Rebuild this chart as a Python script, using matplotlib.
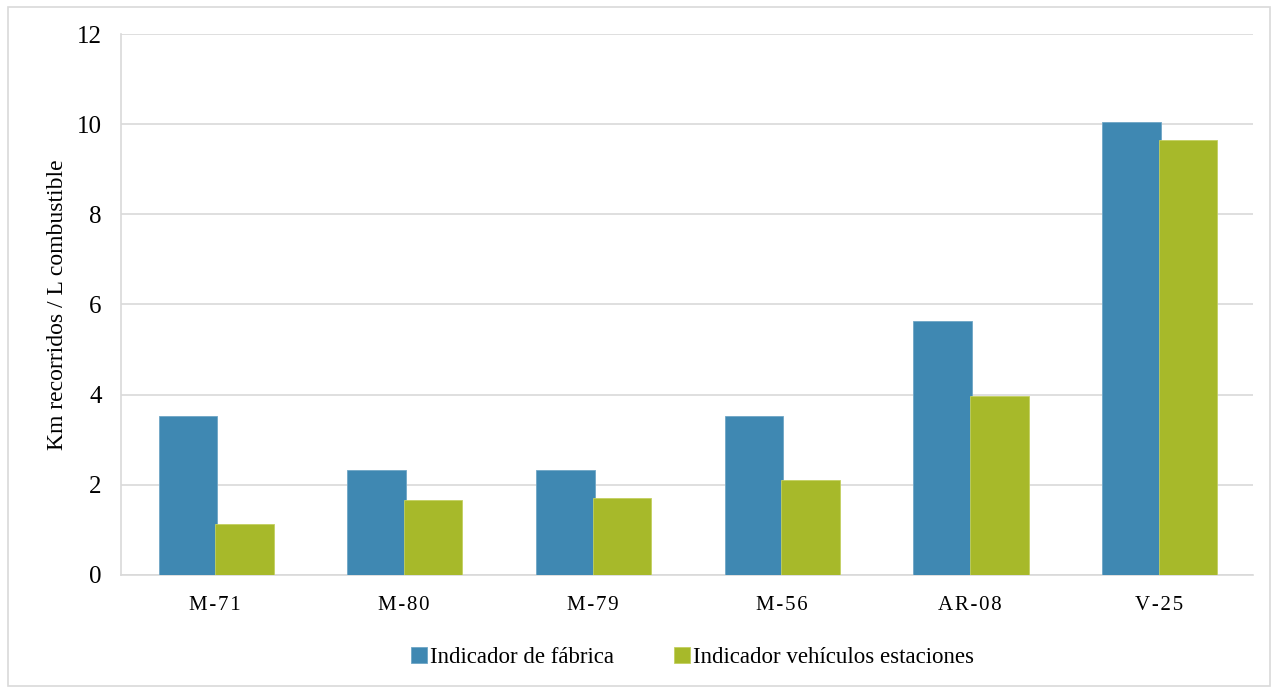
import numpy as np
import matplotlib.pyplot as plt
from matplotlib.patches import Rectangle

plt.rcParams["font.family"] = ["Liberation Serif", "DejaVu Serif"]

vehicles = ["M-71", "M-80", "M-79", "M-56", "AR-08", "V-25"]
factory = [3.53, 2.33, 2.33, 3.53, 5.63, 10.04]
stations = [1.13, 1.66, 1.70, 2.11, 3.97, 9.64]

BLUE = "#3F88B2"
GREEN = "#A7B92A"
GRID = "#D9D9D9"


def spaced(label):
    # letter-spaced category names
    return "\u200a".join(label)


fig = plt.figure(figsize=(12.8, 6.94), dpi=100)
fig.patches.append(Rectangle((0.006, 0.011), 0.986, 0.979, transform=fig.transFigure,
                             fill=False, edgecolor=GRID, linewidth=1.2))

ax = fig.add_axes([0.0945, 0.1715, 0.8845, 0.7795])

x = np.arange(len(vehicles))
w = 0.31
ax.bar(x - w / 2 + 0.01, factory, w, color=BLUE, edgecolor="#6FA6C6", linewidth=0.6,
       label="Indicador de fábrica", zorder=3)
ax.bar(x + w / 2, stations, w, color=GREEN, edgecolor="#C3D060", linewidth=0.6,
       label="Indicador vehículos estaciones", zorder=3)

ax.set_xlim(-0.5, len(vehicles) - 0.5)
ax.set_ylim(0, 12)
ax.set_yticks(range(0, 13, 2))
ax.set_xticks(x)
ax.set_xticklabels([spaced(v) for v in vehicles], fontsize=15)
ax.tick_params(axis="y", labelsize=18, length=0, pad=14)
ax.tick_params(axis="x", length=0, pad=15)

ax.grid(axis="y", color=GRID, linewidth=1.2, zorder=0)
for side in ["top", "right"]:
    ax.spines[side].set_visible(False)
ax.spines["left"].set_color(GRID)
ax.spines["left"].set_linewidth(1.2)
ax.spines["bottom"].set_color(GRID)
ax.spines["bottom"].set_linewidth(1.2)

ax.set_ylabel("Km recorridos / L combustible", fontsize=17)
ax.yaxis.set_label_coords(-0.047, 0.5)

ax.legend(loc="upper center", bbox_to_anchor=(0.505, -0.095), ncol=2, frameon=False,
          fontsize=16.5, handlelength=0.7, handleheight=0.7, handletextpad=0.15,
          columnspacing=2.6)

fig.savefig("out.png", dpi=100)
